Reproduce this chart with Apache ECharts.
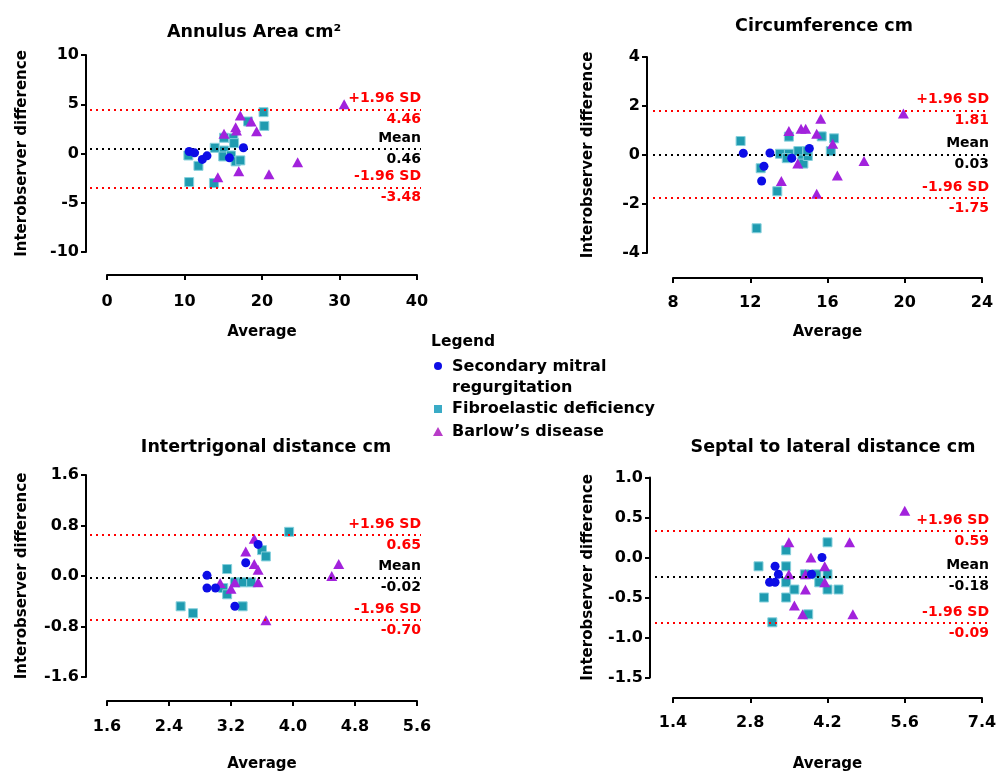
<!DOCTYPE html>
<html><head><meta charset="utf-8">
<script src="https://cdn.jsdelivr.net/npm/echarts@6/dist/echarts.min.js"></script>
<style>html,body{margin:0;padding:0;background:#fff}#c{width:998px;height:773px}</style>
</head><body><div id="c"></div>
<script>
// ---------------- DATA ----------------
const seriesNames = ['Secondary mitral regurgitation', 'Fibroelastic deficiency', 'Barlow\u2019s disease'];
const limitNames = ['+1.96 SD', 'Mean', '-1.96 SD'];

// Annulus Area
const areaSMR = [[10.6,0.2],[11.3,0.07],[12.3,-0.6],[12.9,-0.24],[15.8,-0.44],[17.6,0.58]];
const areaFED = [[20.2,4.2],[18.2,3.25],[20.3,2.8],[15.1,1.6],[16.3,1.55],[16.4,1.05],[13.9,0.58],[15.1,0.3],[10.5,-0.2],[15.0,-0.3],[16.0,-0.2],[16.6,-0.8],[17.2,-0.7],[11.8,-1.25],[10.6,-2.9],[13.8,-3.0]];
const areaBD = [[30.6,5.0],[17.2,3.86],[18.6,3.25],[16.6,2.67],[16.7,2.33],[19.3,2.27],[15.1,2.0],[24.6,-0.9],[17.0,-1.8],[20.9,-2.1],[14.3,-2.4]];
const areaLimits = [4.46, 0.46, -3.48];
const areaLimitLabels = ['4.46', '0.46', '-3.48'];
const areaXTicks = [0, 10, 20, 30, 40];
const areaXLabels = ['0', '10', '20', '30', '40'];
const areaYTicks = [-10, -5, 0, 5, 10];
const areaYLabels = ['-10', '-5', '0', '5', '10'];

// Circumference
const circSMR = [[11.64,0.07],[12.59,-1.06],[12.71,-0.46],[13.02,0.08],[14.15,-0.13],[15.06,0.27]];
const circFED = [[11.5,0.57],[12.54,-0.54],[13.4,-1.48],[12.33,-2.99],[13.54,0.05],[14.0,0.05],[14.0,0.75],[13.89,-0.13],[14.49,0.16],[14.7,-0.18],[14.75,-0.35],[14.98,-0.04],[14.96,0.16],[15.7,0.76],[16.17,0.16],[16.34,0.68]];
const circBD = [[14.0,0.98],[14.63,1.07],[14.87,1.07],[15.65,1.48],[15.44,0.87],[16.27,0.46],[14.46,-0.35],[13.61,-1.06],[15.44,-1.58],[16.51,-0.84],[17.89,-0.24],[19.93,1.69]];
const circLimits = [1.81, 0.03, -1.75];
const circLimitLabels = ['1.81', '0.03', '-1.75'];
const circXTicks = [8, 12, 16, 20, 24];
const circXLabels = ['8', '12', '16', '20', '24'];
const circYTicks = [-4, -2, 0, 2, 4];
const circYLabels = ['-4', '-2', '0', '2', '4'];

// Intertrigonal distance
const interSMR = [[2.89,0.01],[2.89,-0.19],[3.0,-0.19],[3.25,-0.48],[3.39,0.21],[3.55,0.5]];
const interFED = [[3.95,0.70],[3.6,0.41],[3.65,0.31],[3.15,0.11],[3.10,-0.19],[3.15,-0.29],[3.25,-0.10],[3.35,-0.10],[3.46,-0.10],[3.35,-0.48],[2.55,-0.48],[2.71,-0.59]];
const interBD = [[3.50,0.59],[3.39,0.39],[3.50,0.19],[3.55,0.10],[4.59,0.19],[4.50,0.0],[3.06,-0.11],[3.25,-0.10],[3.20,-0.20],[3.55,-0.10],[3.65,-0.70]];
const interLimits = [0.65, -0.02, -0.70];
const interLimitLabels = ['0.65', '-0.02', '-0.70'];
const interXTicks = [1.6, 2.4, 3.2, 4.0, 4.8, 5.6];
const interXLabels = ['1.6', '2.4', '3.2', '4.0', '4.8', '5.6'];
const interYTicks = [-1.6, -0.8, 0, 0.8, 1.6];
const interYLabels = ['-1.6', '-0.8', '0.0', '0.8', '1.6'];

// Septal to lateral distance
const septSMR = [[3.25,-0.11],[3.15,-0.31],[3.25,-0.31],[3.31,-0.21],[3.91,-0.21],[4.10,0.0]];
const septFED = [[2.95,-0.11],[3.05,-0.50],[3.2,-0.81],[3.45,0.09],[3.45,-0.11],[3.45,-0.31],[3.45,-0.50],[3.6,-0.40],[3.79,-0.21],[4.0,-0.21],[4.05,-0.31],[4.2,-0.21],[4.2,-0.40],[4.2,0.19],[4.40,-0.40],[3.85,-0.71]];
const septBD = [[5.60,0.585],[3.50,0.19],[4.60,0.19],[3.90,0.0],[4.15,-0.11],[3.50,-0.21],[3.80,-0.21],[4.15,-0.31],[3.80,-0.40],[3.60,-0.60],[3.75,-0.71],[4.66,-0.71]];
const septLimits = [0.33, -0.245, -0.82];
const septLimitLabels = ['0.59', '-0.18', '-0.09'];
const septXTicks = [1.4, 2.8, 4.2, 5.6, 7.0];
const septXLabels = ['1.4', '2.8', '4.2', '5.6', '7.4'];
const septYTicks = [-1.5, -1.0, -0.5, 0, 0.5, 1.0];
const septYLabels = ['-1.5', '-1.0', '-0.5', '0.0', '0.5', '1.0'];

// ---------------- LAYOUT ----------------
const FONT = 'DejaVu Sans, Verdana, sans-serif';
const panels = [
  {title: 'Annulus Area cm\u00B2', smr: areaSMR, fed: areaFED, bd: areaBD, limits: areaLimits, limitLabels: areaLimitLabels,
   xTicks: areaXTicks, xLabels: areaXLabels, yTicks: areaYTicks, yLabels: areaYLabels,
   L: {dl: 90, dr: 421, yt: 55, yb: 252, ya: 86, xl: 107, xr: 417, xy: 275, tx: 254, ty: 32, xm: 19, xng: 50, yng: 56}},
  {title: 'Circumference cm', smr: circSMR, fed: circFED, bd: circBD, limits: circLimits, limitLabels: circLimitLabels,
   xTicks: circXTicks, xLabels: circXLabels, yTicks: circYTicks, yLabels: circYLabels,
   L: {dl: 653, dr: 989, yt: 57, yb: 253, ya: 647, xl: 673, xr: 982, xy: 278, tx: 824, ty: 26, xm: 17, xng: 47, yng: 51}},
  {title: 'Intertrigonal distance cm', smr: interSMR, fed: interFED, bd: interBD, limits: interLimits, limitLabels: interLimitLabels,
   xTicks: interXTicks, xLabels: interXLabels, yTicks: interYTicks, yLabels: interYLabels,
   L: {dl: 90, dr: 421, yt: 475, yb: 677, ya: 86, xl: 107, xr: 417, xy: 701, tx: 266, ty: 447, xm: 18, xng: 56, yng: 56}},
  {title: 'Septal to lateral distance cm', smr: septSMR, fed: septFED, bd: septBD, limits: septLimits, limitLabels: septLimitLabels,
   xTicks: septXTicks, xLabels: septXLabels, yTicks: septYTicks, yLabels: septYLabels,
   L: {dl: 655, dr: 989, yt: 477.5, yb: 677.5, ya: 650, xl: 673, xr: 982, xy: 698, tx: 833, ty: 447, xm: 17, xng: 59, yng: 54}}
];

const COL_SMR = '#0d0de6', COL_FED = '#1f9bb0', COL_BD = '#a222dc';

function fmt(values, labels) {
  return function (v) {
    for (let i = 0; i < values.length; i++) {
      if (Math.abs(values[i] - v) < 1e-6) return labels[i];
    }
    return '';
  };
}
const r6 = v => Math.round(v * 1e6) / 1e6;
const tickFont = {color: '#000', fontWeight: 'bold', fontSize: 16, fontFamily: FONT};
const nameFont = {color: '#000', fontWeight: 'bold', fontSize: 15, fontFamily: FONT};

const option = {
  animation: false, backgroundColor: '#fff',
  title: [], grid: [], xAxis: [], yAxis: [], series: [], graphic: []
};

panels.forEach((p, k) => {
  const L = p.L;
  const xMin = p.xTicks[0], xMax = p.xTicks[p.xTicks.length - 1];
  const yMin = p.yTicks[0], yMax = p.yTicks[p.yTicks.length - 1];
  const ppu = (L.xr - L.xl) / (xMax - xMin);
  option.title.push({text: p.title, left: L.tx, top: L.ty - 9, textAlign: 'center', padding: 0,
    textStyle: {fontSize: 17.5, fontWeight: 'bold', color: '#000', fontFamily: FONT}});
  option.grid.push({left: L.dl, top: L.yt, width: L.dr - L.dl, height: L.yb - L.yt, containLabel: false, outerBoundsMode: 'none'});
  option.grid.push({left: L.xl, top: L.xy - 10, width: L.xr - L.xl, height: 10, containLabel: false, outerBoundsMode: 'none'});
  option.xAxis.push({gridIndex: 2 * k, type: 'value', show: false,
    min: xMin - (L.xl - L.dl) / ppu, max: xMax + (L.dr - L.xr) / ppu});
  option.xAxis.push({gridIndex: 2 * k + 1, type: 'value', position: 'bottom', min: xMin, max: xMax,
    interval: r6(p.xTicks[1] - p.xTicks[0]),
    axisLine: {show: true, onZero: false, lineStyle: {color: '#000', width: 2}},
    axisTick: {show: true, length: 5, lineStyle: {color: '#000', width: 2}},
    axisLabel: Object.assign({margin: L.xm, formatter: fmt(p.xTicks, p.xLabels), showMinLabel: true, showMaxLabel: true}, tickFont),
    splitLine: {show: false},
    name: 'Average', nameLocation: 'middle', nameGap: L.xng, nameTextStyle: nameFont});
  option.yAxis.push({gridIndex: 2 * k, type: 'value', position: 'left', offset: L.dl - L.ya,
    min: yMin, max: yMax, interval: r6(p.yTicks[1] - p.yTicks[0]),
    axisLine: {show: true, onZero: false, lineStyle: {color: '#000', width: 2}},
    axisTick: {show: true, length: 5, lineStyle: {color: '#000', width: 2}},
    axisLabel: Object.assign({margin: 7, formatter: fmt(p.yTicks, p.yLabels), showMinLabel: true, showMaxLabel: true}, tickFont),
    splitLine: {show: false},
    name: 'Interobserver difference', nameLocation: 'middle', nameGap: L.yng, nameRotate: 90, nameTextStyle: nameFont});
  option.yAxis.push({gridIndex: 2 * k + 1, type: 'value', min: 0, max: 1, show: false});

  const mlData = [];
  p.limits.forEach((v, i) => {
    const c = i === 1 ? '#000' : '#ff0000';
    const ls = {color: c, type: [2, 4], width: 2};
    const lf = {color: c, fontWeight: 'bold', fontSize: 14, fontFamily: FONT};
    mlData.push({yAxis: v, lineStyle: ls, label: Object.assign({show: true, position: 'insideEndTop', distance: [0, 4], formatter: limitNames[i]}, lf)});
    mlData.push({yAxis: v, lineStyle: ls, label: Object.assign({show: true, position: 'insideEndBottom', distance: [0, 3], formatter: p.limitLabels[i]}, lf)});
  });

  option.series.push({type: 'scatter', name: seriesNames[1], xAxisIndex: 2 * k, yAxisIndex: 2 * k, data: p.fed,
    symbol: 'rect', symbolSize: 9, itemStyle: {color: COL_FED, borderColor: '#86d0dc', borderWidth: 1, opacity: 1}, z: 3,
    markLine: {silent: true, symbol: 'none', animation: false, data: mlData}});
  option.series.push({type: 'scatter', name: seriesNames[2], xAxisIndex: 2 * k, yAxisIndex: 2 * k, data: p.bd,
    symbol: 'triangle', symbolSize: [11, 10], itemStyle: {color: COL_BD, opacity: 1}, z: 4});
  option.series.push({type: 'scatter', name: seriesNames[0], xAxisIndex: 2 * k, yAxisIndex: 2 * k, data: p.smr,
    symbol: 'circle', symbolSize: 9, itemStyle: {color: COL_SMR, opacity: 1}, z: 5});
});

// Legend (drawn as graphic so the two-line label sits like the reference)
const lgFont = 'bold 16px ' + FONT;
option.graphic = [
  {type: 'text', x: 431, y: 342, style: {text: 'Legend', font: 'bold 15.5px ' + FONT, fill: '#000', verticalAlign: 'middle'}},
  {type: 'circle', shape: {cx: 438, cy: 366, r: 4}, style: {fill: COL_SMR}},
  {type: 'text', x: 452, y: 356, style: {text: 'Secondary mitral\nregurgitation', font: lgFont, fill: '#000', verticalAlign: 'top', lineHeight: 21}},
  {type: 'rect', shape: {x: 434, y: 405, width: 8, height: 8}, style: {fill: '#3aabc6'}},
  {type: 'text', x: 452, y: 409, style: {text: seriesNames[1], font: lgFont, fill: '#000', verticalAlign: 'middle'}},
  {type: 'polygon', shape: {points: [[438, 427], [443, 436], [433, 436]]}, style: {fill: '#b83cc8'}},
  {type: 'text', x: 452, y: 432, style: {text: seriesNames[2], font: lgFont, fill: '#000', verticalAlign: 'middle'}}
];

const chart = echarts.init(document.getElementById('c'), null, {renderer: 'canvas'});
chart.setOption(option);
</script>
</body></html>
